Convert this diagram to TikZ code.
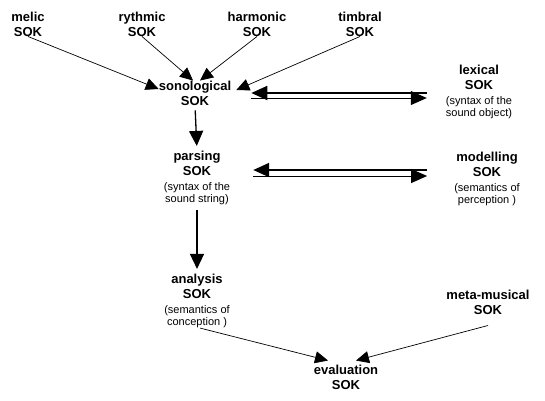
\documentclass[tikz,border=0pt]{standalone}
\usepackage{fontspec}
\setmainfont{Liberation Sans}
\usepackage{tikz}
\usetikzlibrary{arrows.meta,calc,positioning}
% kleine Erklaerungszeile unter SOK
\newcommand{\erkl}[1]{{\fontsize{11}{12}\selectfont\mdseries #1}}

\begin{document}
\begin{tikzpicture}[x=1pt,y=-1pt,
  sok/.style={align=center,inner sep=0pt,font=\fontsize{13}{15}\selectfont\bfseries},
  pfeil/.style={line width=0.7pt,-{Triangle[length=13pt,width=12pt]}},
  senk/.style={line width=1.3pt,-{Triangle[length=15pt,width=14pt]},shorten <=5pt,shorten >=5pt},
  doppel/.style={-{Triangle[length=16pt,width=14pt]}}]
\useasboundingbox (0,0) rectangle (545,400);
%obere Reihe
\foreach \name/\x in {melic/28,rythmic/142,harmonic/257,timbral/360}{
  \node[sok] (\name) at (\x,24) {\name\\SOK};
}
\node[sok] (sono) at (195,93) {sonological\\SOK};
\node[sok] (lexical) at (479,92) {lexical\\SOK\\\erkl{(syntax of the}\\[-3pt]\erkl{sound object)}};
\node[sok] (parsing) at (197,178) {parsing\\SOK\\\erkl{(syntax of the}\\[-3pt]\erkl{sound string)}};
\node[sok] (modelling) at (487,179) {modelling\\SOK\\\erkl{(semantics of}\\[-3pt]\erkl{perception )}};
\node[sok] (analysis) at (197,301) {analysis\\SOK\\\erkl{(semantics of}\\[-3pt]\erkl{conception )}};
\node[sok] (meta) at (488,302) {meta-musical\\SOK};
\node[sok] (eval) at (346,377) {evaluation\\SOK};
%Pfeile zur sonologischen Ebene
\draw[pfeil] (melic.south) -- ([yshift=4pt]sono.west);
\draw[pfeil] (rythmic.south) -- ([xshift=-2pt]sono.north);
\draw[pfeil] (harmonic.south) -- ([xshift=5pt]sono.north);
\draw[pfeil] (timbral.south) -- ([shift={(5pt,3pt)}]sono.east);
%Doppelpfeile, oben dick, unten duenn
\draw[doppel,line width=1.8pt,shorten <=19pt,shorten >=20pt] (lexical.west |- sono.east) -- (sono.east);
\draw[doppel,line width=1pt,shorten <=20pt,shorten >=19pt] ([yshift=-5pt]sono.east) -- ([yshift=-5pt]lexical.west |- sono.east);
\draw[doppel,line width=1.8pt,shorten <=27pt,shorten >=23pt] ([yshift=8pt]modelling.west |- parsing.east) -- ([yshift=8pt]parsing.east);
\draw[doppel,line width=1pt,shorten <=23pt,shorten >=27pt] ([yshift=2pt]parsing.east) -- ([yshift=2pt]modelling.west |- parsing.east);
%senkrecht nach unten
\draw[senk] (sono.south) -- (parsing.north);
\draw[senk] (parsing.south) -- (analysis.north);
%zur Bewertung
\draw[pfeil] ([xshift=3pt]analysis.south) -- ([shift={(-18pt,4pt)}]eval.north);
\draw[pfeil] ([yshift=-11pt]meta.south) -- ([shift={(10pt,4pt)}]eval.north);
\end{tikzpicture}
\end{document}
